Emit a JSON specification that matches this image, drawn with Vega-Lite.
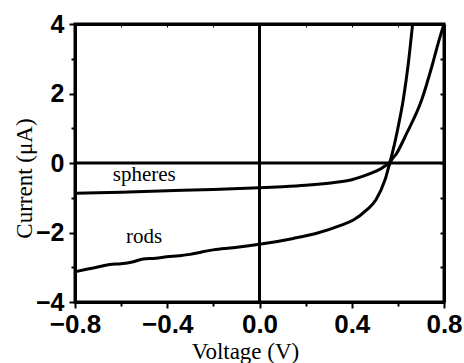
{
  "$schema": "https://vega.github.io/schema/vega-lite/v6.json",
  "width": 369,
  "height": 278,
  "autosize": "none",
  "padding": {"left": 75, "top": 24, "right": 20, "bottom": 61},
  "background": "white",
  "config": {
    "view": {"stroke": "black", "strokeWidth": 3},
    "axis": {"domainColor": "black", "domainWidth": 3, "tickColor": "black", "tickWidth": 2, "grid": false}
  },
  "datasets": {
    "curves": [
      {"series": "spheres", "V": -0.8, "I": -0.87},
      {"series": "spheres", "V": -0.6, "I": -0.84},
      {"series": "spheres", "V": -0.4, "I": -0.8},
      {"series": "spheres", "V": -0.2, "I": -0.76},
      {"series": "spheres", "V": 0.0, "I": -0.71},
      {"series": "spheres", "V": 0.1, "I": -0.68},
      {"series": "spheres", "V": 0.2, "I": -0.64},
      {"series": "spheres", "V": 0.3, "I": -0.58},
      {"series": "spheres", "V": 0.35, "I": -0.54},
      {"series": "spheres", "V": 0.4, "I": -0.48},
      {"series": "spheres", "V": 0.45, "I": -0.38},
      {"series": "spheres", "V": 0.5, "I": -0.25},
      {"series": "spheres", "V": 0.53, "I": -0.15},
      {"series": "spheres", "V": 0.548, "I": -0.07},
      {"series": "spheres", "V": 0.563, "I": 0.0},
      {"series": "spheres", "V": 0.58, "I": 0.4},
      {"series": "spheres", "V": 0.6, "I": 1.0},
      {"series": "spheres", "V": 0.624, "I": 1.85},
      {"series": "spheres", "V": 0.645, "I": 2.85},
      {"series": "spheres", "V": 0.664, "I": 4.0},
      {"series": "rods", "V": -0.8, "I": -3.13},
      {"series": "rods", "V": -0.75, "I": -3.06},
      {"series": "rods", "V": -0.692, "I": -2.98},
      {"series": "rods", "V": -0.649, "I": -2.92},
      {"series": "rods", "V": -0.6, "I": -2.9},
      {"series": "rods", "V": -0.547, "I": -2.84},
      {"series": "rods", "V": -0.504, "I": -2.76},
      {"series": "rods", "V": -0.45, "I": -2.74},
      {"series": "rods", "V": -0.402, "I": -2.7},
      {"series": "rods", "V": -0.35, "I": -2.67},
      {"series": "rods", "V": -0.301, "I": -2.63},
      {"series": "rods", "V": -0.25, "I": -2.56},
      {"series": "rods", "V": -0.2, "I": -2.5},
      {"series": "rods", "V": -0.114, "I": -2.44},
      {"series": "rods", "V": 0.0, "I": -2.34},
      {"series": "rods", "V": 0.147, "I": -2.17},
      {"series": "rods", "V": 0.248, "I": -2.02},
      {"series": "rods", "V": 0.349, "I": -1.8},
      {"series": "rods", "V": 0.407, "I": -1.64},
      {"series": "rods", "V": 0.465, "I": -1.35},
      {"series": "rods", "V": 0.505, "I": -1.06},
      {"series": "rods", "V": 0.544, "I": -0.49},
      {"series": "rods", "V": 0.566, "I": 0.0},
      {"series": "rods", "V": 0.595, "I": 0.28},
      {"series": "rods", "V": 0.638, "I": 0.85},
      {"series": "rods", "V": 0.703, "I": 1.81},
      {"series": "rods", "V": 0.747, "I": 2.77},
      {"series": "rods", "V": 0.775, "I": 3.45},
      {"series": "rods", "V": 0.8, "I": 4.0}
    ],
    "labels": [
      {"text": "spheres", "V": -0.5, "I": -0.51},
      {"text": "rods", "V": -0.5, "I": -2.31}
    ]
  },
  "resolve": {"axis": {"y": "independent", "x": "independent"}},
  "layer": [
    {
      "data": {"name": "curves"},
      "mark": {"type": "line", "color": "black", "strokeWidth": 3, "interpolate": "monotone", "clip": true},
      "encoding": {
        "x": {
          "field": "V", "type": "quantitative",
          "scale": {"domain": [-0.8, 0.8], "nice": false, "zero": false},
          "axis": {
            "orient": "bottom",
            "title": "Voltage (V)",
            "values": [-0.8, -0.6, -0.4, -0.2, 0, 0.2, 0.4, 0.6, 0.8],
            "labelExpr": "round(datum.value*10) % 4 == 0 ? format(datum.value, '.1f') : ''",
            "tickSize": {"condition": {"test": "round(datum.value*10) % 4 == 0", "value": 6}, "value": 4},
            "labelFont": "Liberation Sans",
            "labelFontWeight": "bold",
            "labelFontSize": 26,
            "labelColor": "black",
            "labelPadding": 3,
            "labelFlush": false,
            "labelOverlap": false,
            "titleFont": "Liberation Serif",
            "titleFontWeight": "normal",
            "titleFontSize": 23,
            "titleColor": "black",
            "titleX": 170,
            "titleY": 56,
            "titleBaseline": "alphabetic",
            "titleAlign": "center"
          }
        },
        "y": {
          "field": "I", "type": "quantitative",
          "scale": {"domain": [-4, 4], "nice": false, "zero": false},
          "axis": {
            "orient": "left",
            "title": "Current (μA)",
            "values": [-4, -3, -2, -1, 0, 1, 2, 3, 4],
            "labelExpr": "datum.value % 2 == 0 ? format(datum.value, 'd') : ''",
            "tickSize": {"condition": {"test": "datum.value % 2 == 0", "value": 6}, "value": 4},
            "labelFont": "Liberation Sans",
            "labelFontWeight": "bold",
            "labelFontSize": 25,
            "labelColor": "black",
            "labelPadding": 5,
            "labelFlush": false,
            "labelOverlap": false,
            "titleFont": "Liberation Serif",
            "titleFontWeight": "normal",
            "titleFontSize": 23,
            "titleColor": "black",
            "titleX": -44,
            "titleY": 154,
            "titleAngle": -90,
            "titleBaseline": "alphabetic",
            "titleAlign": "center"
          }
        },
        "detail": {"field": "series"}
      }
    },
    {
      "data": {"values": [{"I": 0}]},
      "mark": {"type": "rule", "color": "black", "strokeWidth": 3},
      "encoding": {
        "y": {
          "field": "I", "type": "quantitative",
          "axis": {"orient": "right", "title": null, "labels": false, "values": [-4, -3, -2, -1, 0, 1, 2, 3, 4], "tickSize": -4}
        }
      }
    },
    {
      "data": {"values": [{"V": 0}]},
      "mark": {"type": "rule", "color": "black", "strokeWidth": 3},
      "encoding": {
        "x": {
          "field": "V", "type": "quantitative",
          "axis": {"orient": "top", "title": null, "labels": false, "values": [-0.6, -0.4, -0.2, 0, 0.2, 0.4, 0.6], "tickSize": -3, "tickWidth": 1}
        }
      }
    },
    {
      "data": {"name": "labels"},
      "mark": {"type": "text", "font": "Liberation Serif", "fontSize": 21, "baseline": "alphabetic", "align": "center", "color": "black"},
      "encoding": {
        "x": {"field": "V", "type": "quantitative", "axis": null},
        "y": {"field": "I", "type": "quantitative", "axis": null},
        "text": {"field": "text"}
      }
    }
  ]
}
